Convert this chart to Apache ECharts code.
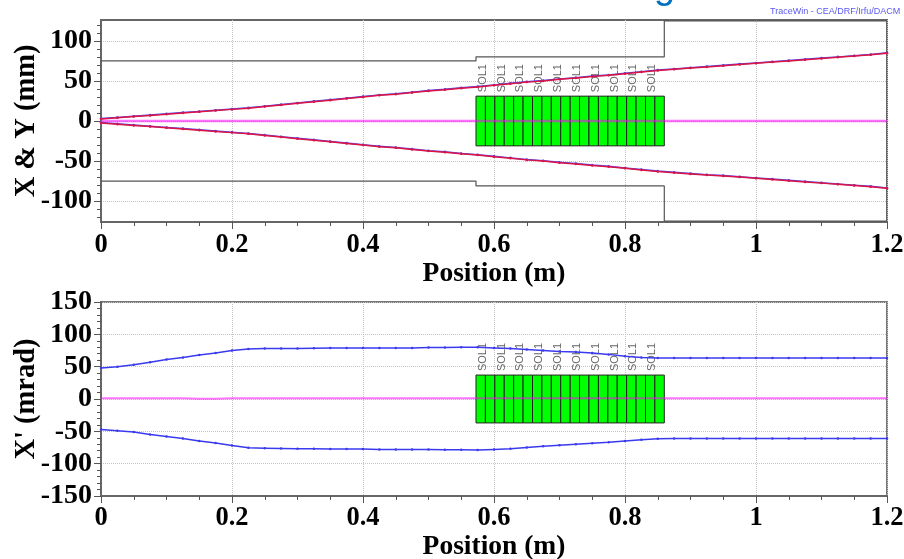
<!DOCTYPE html>
<html><head><meta charset="utf-8">
<style>html,body{margin:0;padding:0;background:#fff}#c{width:904px;height:559px}</style>
<script src="https://cdn.jsdelivr.net/npm/echarts@6/dist/echarts.min.js"></script>
</head><body><div id="c"></div>
<script>
const positions=[0,0.025,0.05,0.075,0.1,0.125,0.15,0.175,0.2,0.225,0.25,0.275,0.3,0.325,0.35,0.375,0.4,0.425,0.45,0.475,0.5,0.525,0.55,0.575,0.6,0.625,0.65,0.675,0.7,0.725,0.75,0.775,0.8,0.825,0.85,0.875,0.9,0.925,0.95,0.975,1,1.025,1.05,1.075,1.1,1.125,1.15,1.175,1.2];
const envXUpper=[3,4.5,6,7.5,9,10.5,12,13.5,15,16.5,18.5,20.5,22.5,24.5,26.5,28.5,30.5,32.5,34,36,38,39.5,41.5,43,45,47,49,50.5,52.5,54,56,57.5,59.5,61.5,63.5,65,66.5,68,69.5,71,72.5,74,75.5,77,78.5,80,81.5,83,85];
const envYUpper=[2.5,4,5.5,7,8.5,10,11.5,13,14.5,16,18,20,22,24,26,28,30,32,33.5,35.5,37.5,39,41,42.5,44.5,46.5,48.5,50,52,53.5,55.5,57,59,61,63,64.5,66,67.5,69,70.5,72,73.5,75,76.5,78,79.5,81,82.5,84.5];
const envXLower=[-2,-3.5,-5,-6.5,-8,-9.5,-11,-12.5,-14,-15.5,-17.5,-19.5,-21.5,-23.5,-25.5,-27.5,-29.5,-31.5,-33,-35,-37,-38.5,-40.5,-42,-44,-46,-48,-49.5,-51.5,-53,-55,-56.5,-58.5,-60.5,-62.5,-64,-65.5,-67,-68,-69.5,-71,-72.5,-74,-75.5,-77,-78.5,-80,-81.5,-83.5];
const envYLower=[-2.5,-4,-5.5,-7,-8.5,-10,-11.5,-13,-14.5,-16,-18,-20,-22,-24,-26,-28,-30,-32,-33.5,-35.5,-37.5,-39,-41,-42.5,-44.5,-46.5,-48.5,-50,-52,-53.5,-55.5,-57,-59,-61,-63,-64.5,-66,-67.5,-68.5,-70,-71.5,-73,-74.5,-76,-77.5,-79,-80.5,-82,-84];
const centreTop=[0,0,0,0,0,0,0,0,0,0,0,0,0,0,0,0,0,0,0,0,0,0,0,0,0,0,0,0,0,0,0,0,0,0,0,0,0,0,0,0,0,0,0,0,0,0,0,0,0];
const divUpper=[48,50,53,57,61,64,68,71,75,77.5,78,78,78,78.5,79,79,79,79,79,79,79.5,79.5,80,80,79,78,76.5,75,73.5,72.5,71,69,66,64,63.5,63.5,63.5,63.5,63.5,63.5,63.5,63.5,63.5,63.5,63.5,63.5,63.5,63.5,63.5];
const divLower=[-47,-49,-51,-55,-58,-61,-65,-68,-72,-75.5,-76,-76.5,-77,-77,-77.5,-77.5,-77.5,-78,-78,-78,-78,-78.5,-78.5,-79,-78,-77,-75,-73,-71.5,-70,-68.5,-67,-65,-63,-61.5,-61,-61,-61,-61,-61,-61,-61,-61,-61,-61,-61,-61,-61,-61];
const centreBottom=[1,1,1,1,1,1,0.5,0.5,1,1,1,1,1,1,1,1,1,1,1,1,1,1,1,1,1,1,1,1,1,1,1,1,1,1,1,1,1,1,1,1,1,1,1,1,1,1,1,1,1];
const apertureUpperX=[0,0.5725,0.5725,0.86,0.86,1.2];
const apertureUpperY=[75,75,80,80,125,125];
const apertureLowerY=[-75,-75,-81,-81,-125,-125];
const elementEdges=[0.5725,0.5869,0.6013,0.6156,0.63,0.6444,0.6588,0.6731,0.6875,0.7019,0.7163,0.7306,0.745,0.7594,0.7738,0.7881,0.8025,0.8169,0.8313,0.8456,0.86];
const elementHalfTop=31;
const elementHalfBottom=37;
const elementLabel='SOL1';
const yMajorTop=[-100,-50,0,50,100];
const yMinorTop=[-120,-110,-90,-80,-70,-60,-40,-30,-20,-10,10,20,30,40,60,70,80,90,110,120];

const pts=(xs,ys)=>xs.map((x,i)=>[x,ys[i]]);
const serif='"Liberation Serif","Times New Roman",serif';
const xLabelStyle={fontFamily:serif,fontWeight:'bold',fontSize:26.5,color:'#000'};
const yLabelStyle={fontFamily:serif,fontWeight:'bold',fontSize:28,color:'#000',padding:[4,0,0,0]};
const xNameStyle={fontFamily:serif,fontWeight:'bold',fontSize:27.5,color:'#000'};
const yNameStyle={fontFamily:serif,fontWeight:'bold',fontSize:28.5,color:'#000'};
const dotted={show:true,lineStyle:{color:'#c4c4c4',type:'dotted',width:1}};
const axisLine={show:true,onZero:false,lineStyle:{color:'#666',width:2}};

function xAxis(i){return {gridIndex:i,type:'value',min:0,max:1.2,interval:0.2,name:'Position (m)',nameLocation:'middle',nameGap:i?32:35,nameTextStyle:xNameStyle,
  axisLine,axisTick:{show:true,length:7,lineStyle:{color:'#555'}},minorTick:{show:true,splitNumber:4,length:4,lineStyle:{color:'#555'}},
  splitLine:dotted,minorSplitLine:{show:false},axisLabel:{...xLabelStyle,margin:i?9:10,hideOverlap:false,showMinLabel:true,showMaxLabel:true,formatter:v=>String(+v.toFixed(1))}};}

function elements(half,xIdx,yIdx){
  return {type:'custom',xAxisIndex:xIdx,yAxisIndex:yIdx,z:3,silent:true,clip:false,
    data:elementEdges.slice(0,-1).map((e,i)=>[e,elementEdges[i+1],i]),
    encode:{x:[0,1]},
    renderItem:(p,api)=>{
      const a=api.coord([api.value(0),half]),b=api.coord([api.value(1),-half]);
      const kids=[{type:'rect',shape:{x:a[0],y:a[1],width:b[0]-a[0],height:b[1]-a[1]},style:{fill:'#00ff00',stroke:'#222',lineWidth:1}}];
      if(api.value(2)%2===0){
        kids.push({type:'text',x:(a[0]+b[0])/2+2,y:a[1]-4,rotation:Math.PI/2,style:{text:elementLabel,fill:'#666',fontFamily:'"Liberation Sans",Arial,sans-serif',fontSize:11,textAlign:'left',textVerticalAlign:'middle'}});
      }
      return {type:'group',children:kids};
    }};
}
function env(name,data,color,xi,yi,z){return {name,type:'line',xAxisIndex:xi,yAxisIndex:yi,data,z:z||5,silent:true,animation:false,symbol:'circle',symbolSize:2.5,showSymbol:true,showAllSymbols:true,itemStyle:{color},lineStyle:{color,width:1.5}};}
function line(name,data,color,width,xi,yi,z,op){return {name,type:'line',xAxisIndex:xi,yAxisIndex:yi,data,z,silent:true,animation:false,showSymbol:false,symbol:'none',lineStyle:{color,width,opacity:op||1}};}

const option={
  animation:false,backgroundColor:'#fff',
  grid:[
    {left:101,right:17,top:20,height:202,show:true,borderColor:'#666',borderWidth:2,backgroundColor:'transparent',outerBoundsMode:'none'},
    {left:101,right:17,top:302,height:194,show:true,borderColor:'#777',borderWidth:2,backgroundColor:'transparent',outerBoundsMode:'none'}
  ],
  xAxis:[xAxis(0),xAxis(1)],
  yAxis:[
    {gridIndex:0,type:'value',min:-126,max:126,name:'X & Y (mm)',nameLocation:'middle',nameGap:60,nameMoveOverlap:false,nameTextStyle:yNameStyle,
     axisLine,axisTick:{show:true,length:7,customValues:yMajorTop,lineStyle:{color:'#555'}},splitLine:dotted,
     axisLabel:{...yLabelStyle,margin:9,customValues:yMajorTop,formatter:v=>String(v)}},
    {gridIndex:0,position:'left',type:'value',min:-126,max:126,axisLine:{show:false,onZero:false},axisTick:{show:true,length:4,customValues:yMinorTop,lineStyle:{color:'#555'}},splitLine:{show:false},axisLabel:{show:false}},
    {gridIndex:1,type:'value',min:-150,max:150,interval:50,name:"X' (mrad)",nameLocation:'middle',nameGap:60,nameMoveOverlap:false,nameTextStyle:yNameStyle,
     axisLine,axisTick:{show:true,length:7,lineStyle:{color:'#555'}},minorTick:{show:true,splitNumber:5,length:4,lineStyle:{color:'#555'}},splitLine:dotted,
     axisLabel:{...yLabelStyle,margin:9,showMinLabel:true,showMaxLabel:true}}
  ],
  graphic:[
    {type:'text',left:770,top:7,style:{text:'TraceWin - CEA/DRF/Irfu/DACM',fill:'#5a5af0',fontFamily:'"Liberation Sans",Arial,sans-serif',fontSize:9}},
    {type:'text',x:654,y:-31,style:{text:'g',fill:'#0070c0',fontFamily:'"Liberation Sans",Arial,sans-serif',fontSize:38}}
  ],
  series:[
    line('Aperture upper',pts(apertureUpperX,apertureUpperY),'#555',1.2,0,0,4),
    line('Aperture lower',pts(apertureUpperX,apertureLowerY),'#555',1.2,0,0,4),
    elements(elementHalfTop,0,0),
    line('Centre X',pts(positions,centreTop),'#ff00ff',2.5,0,0,6,0.55),
    env('X upper',pts(positions,envXUpper),'#4a4af5',0,0,5),
    env('X lower',pts(positions,envXLower),'#4a4af5',0,0,5),
    env('Y upper',pts(positions,envYUpper),'#dc1446',0,0,6),
    env('Y lower',pts(positions,envYLower),'#dc1446',0,0,6),
    elements(elementHalfBottom,1,2),
    line('Centre X prime',pts(positions,centreBottom),'#ff00ff',2,1,2,6,0.55),
    env('X prime upper',pts(positions,divUpper),'#3a3af0',1,2,5),
    env('X prime lower',pts(positions,divLower),'#3a3af0',1,2,5)
  ]
};
echarts.init(document.getElementById('c'),null,{renderer:'canvas'}).setOption(option);
</script></body></html>
